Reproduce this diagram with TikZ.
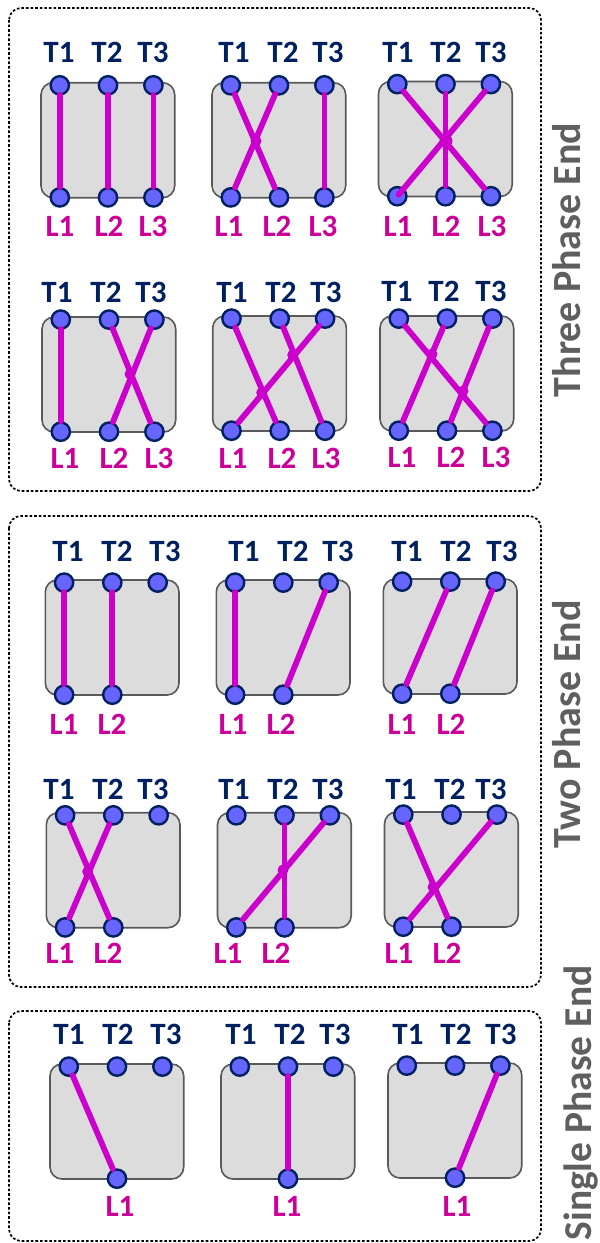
\documentclass[tikz,border=0pt]{standalone}
\usepackage{fontspec}
\setmainfont{Carlito}
\definecolor{termfill}{HTML}{6666FF}
\definecolor{navy}{HTML}{002060}
\definecolor{wirec}{HTML}{CC00CC}
\definecolor{lcol}{HTML}{CC0099}
\definecolor{boxfill}{HTML}{DCDCDC}
\definecolor{boxline}{HTML}{595959}
\definecolor{sidec}{HTML}{5F5F5F}
\tikzset{
 group/.style={draw=black,line width=1.7pt,dash pattern=on 2.6pt off 2pt,rounded corners=12pt},
 unitbox/.style={draw=boxline,fill=boxfill,line width=1.6pt,rounded corners=12pt},
 term/.style={circle,draw=navy,fill=termfill,line width=2.4pt,minimum size=18.3pt,inner sep=0pt},
 wire/.style={draw=wirec,line width=5.8pt,line cap=round,shorten <=9.5pt,shorten >=10.5pt},
 junction/.style={circle,fill=wirec,minimum size=11pt,inner sep=0pt},
 tlab/.style={text=navy,font=\fontsize{31}{31}\selectfont\bfseries,inner sep=0pt},
 llab/.style={text=lcol,font=\fontsize{31}{31}\selectfont\bfseries,inner sep=0pt},
 side/.style={text=sidec,font=\fontsize{40}{40}\selectfont\bfseries,rotate=90,inner sep=0pt},
}
\def\relx#1{\ifcase#1\or18.8\or67\or112.4\fi}
% #1 id, #2 left, #3 top, #4 label y of T, #5 list n/x of T, #6 label y of L, #7 list n/x/text of L
\newcommand\gearunit[7]{%
  \path[unitbox] (#2,#3) rectangle ++(133.7,115);
  \foreach \n/\lx in {#5}{%
    \edef\px{\relx{\n}}%
    \node[term] (#1t\n) at (#2+\px,#3+2.6) {};
    \node[tlab] (#1tl\n) at (\lx,#4) {T\n};
  }%
  \foreach \n/\lx/\lt in {#7}{%
    \edef\px{\relx{\n}}%
    \node[term] (#1b\n) at (#2+\px,#3+114.7) {};
    \node[llab] (#1bl\n) at (\lx,#6) {L\lt};
  }%
}
\newcommand\wires[2]{\foreach \ta/\bb in {#2}{\draw[wire] (#1t\ta.center) -- (#1b\bb.center);}}
\begin{document}
\begin{tikzpicture}[x=1pt,y=-1pt]
\useasboundingbox (0,0) rectangle (600,1243);
\path[group] (9,8) rectangle (541,491);
\path[group] (9,516) rectangle (541,987);
\path[group] (9,1011) rectangle (541,1241);
% row 1
\gearunit{a}{41}{82.7}{52}{1/59,2/107,3/153}{226}{1/60/1,2/109/2,3/153/3}
\wires{a}{1/1,2/2,3/3}
\gearunit{b}{212}{82.7}{52}{1/234,2/283,3/328}{226}{1/229/1,2/277/2,3/323/3}
\wires{b}{1/2,2/1,3/3}
\node[junction] (bj) at (256,141) {};
\gearunit{c}{378.5}{81.5}{52}{1/398,2/446,3/491}{226}{1/398/1,2/446/2,3/492/3}
\wires{c}{1/3,2/2}
\draw[wire,shorten >=2pt] (ct3.center) -- (cb1.center);
\node[junction,minimum size=13pt] (cj) at (446,141) {};
% row 2
\gearunit{d}{42}{317}{292}{1/57,2/106,3/151}{458}{1/65/1,2/114/2,3/159/3}
\wires{d}{1/1,2/3,3/2}
\node[junction] (dj) at (130,374) {};
\gearunit{e}{212.7}{316}{292}{1/232,2/281,3/326}{458}{1/233/1,2/282/2,3/326/3}
\wires{e}{1/2,2/3,3/1}
\node[junction] (ej1) at (261.7,392.7) {};
\node[junction] (ej2) at (292.7,355) {};
\gearunit{f}{380}{316}{291}{1/397,2/444,3/491}{457}{1/402/1,2/451/2,3/496/3}
\wires{f}{1/3,2/1,3/2}
\node[junction] (fj1) at (432,354) {};
\node[junction] (fj2) at (463,391) {};
% row 3
\gearunit{g}{45.3}{580}{551}{1/68,2/117,3/165}{724}{1/64/1,2/112/2}
\wires{g}{1/1,2/2}
\gearunit{h}{216.3}{580}{551}{1/244,2/293,3/338}{724}{1/233/1,2/281/2}
\wires{h}{1/1,3/2}
\gearunit{i}{383.3}{579}{551}{1/407,2/456,3/502}{724}{1/402/1,2/451/2}
\wires{i}{2/1,3/2}
% row 4
\gearunit{j}{46.3}{812.7}{789}{1/59,2/108,3/153}{953}{1/60/1,2/108/2}
\wires{j}{1/2,2/1}
\node[junction] (jj) at (87.7,871.7) {};
\gearunit{k}{217.5}{812.7}{789}{1/234,2/283,3/328}{953}{1/228/1,2/276/2}
\wires{k}{2/2,3/1}
\node[junction] (kj) at (283,870) {};
\gearunit{l}{384.5}{812}{789}{1/401,2/450,3/491}{953}{1/399/1,2/447/2}
\wires{l}{1/2,3/1}
\node[junction] (lj) at (433,887) {};
% row 5
\gearunit{m}{50}{1064}{1034}{1/69,2/118,3/166}{1206}{2/120/1}
\wires{m}{1/2}
\gearunit{n}{221}{1064}{1034}{1/241,2/290,3/335}{1206}{2/287/1}
\wires{n}{2/2}
\gearunit{o}{388}{1063}{1034}{1/408,2/456,3/501}{1206}{2/457/1}
\wires{o}{3/2}
% side labels
\node[side] (s1) at (567,260) {Three Phase End};
\node[side] (s2) at (567,724.5) {Two Phase End};
\node[side,font=\fontsize{39.5}{39.5}\selectfont\bfseries] (s3) at (581,1103) {Single Phase End};
\end{tikzpicture}
\end{document}
